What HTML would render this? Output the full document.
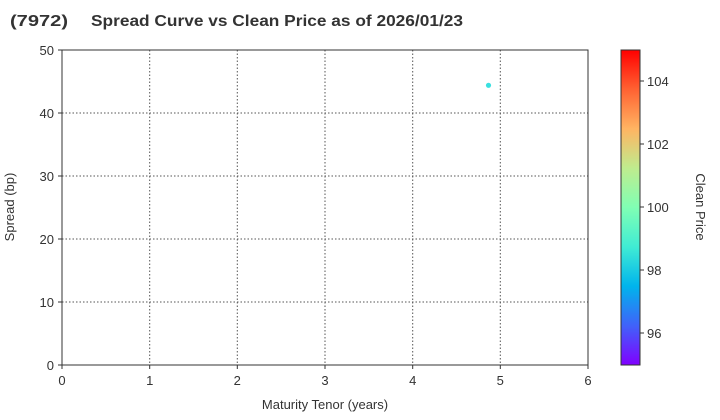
<!DOCTYPE html><html><head><meta charset="utf-8"><style>body{margin:0;background:#fff}svg{display:block;font-family:"Liberation Sans",sans-serif}</style></head><body>
<svg width="720" height="420" viewBox="0 0 720 420">
<defs><linearGradient id="g" x1="0" y1="1" x2="0" y2="0">
<stop offset="0" stop-color="#8000ff"/><stop offset=".125" stop-color="#4062fa"/><stop offset=".25" stop-color="#00b4ec"/><stop offset=".375" stop-color="#40ecd4"/><stop offset=".5" stop-color="#80ffb4"/><stop offset=".625" stop-color="#bfec8e"/><stop offset=".75" stop-color="#ffb462"/><stop offset=".875" stop-color="#ff6232"/><stop offset="1" stop-color="#ff0000"/></linearGradient></defs>
<text x="10" y="26" font-size="16" font-weight="bold" fill="#333" textLength="58" lengthAdjust="spacingAndGlyphs">(7972)</text>
<text x="91" y="26" font-size="16" font-weight="bold" fill="#333" textLength="372" lengthAdjust="spacingAndGlyphs">Spread Curve vs Clean Price as of 2026/01/23</text>
<g stroke="#555" stroke-dasharray="1.5,2" stroke-width="1">
<line x1="149.7" y1="50" x2="149.7" y2="365"/><line x1="237.3" y1="50" x2="237.3" y2="365"/><line x1="325" y1="50" x2="325" y2="365"/><line x1="412.7" y1="50" x2="412.7" y2="365"/><line x1="500.3" y1="50" x2="500.3" y2="365"/>
<line x1="62" y1="302" x2="588" y2="302"/><line x1="62" y1="239" x2="588" y2="239"/><line x1="62" y1="176" x2="588" y2="176"/><line x1="62" y1="113" x2="588" y2="113"/>
</g>
<rect x="62" y="50" width="526" height="315" fill="none" stroke="#333"/>
<g stroke="#333"><line x1="62" y1="365" x2="62" y2="369"/><line x1="149.7" y1="365" x2="149.7" y2="369"/><line x1="237.3" y1="365" x2="237.3" y2="369"/><line x1="325" y1="365" x2="325" y2="369"/><line x1="412.7" y1="365" x2="412.7" y2="369"/><line x1="500.3" y1="365" x2="500.3" y2="369"/><line x1="588" y1="365" x2="588" y2="369"/>
<line x1="58" y1="365" x2="62" y2="365"/><line x1="58" y1="302" x2="62" y2="302"/><line x1="58" y1="239" x2="62" y2="239"/><line x1="58" y1="176" x2="62" y2="176"/><line x1="58" y1="113" x2="62" y2="113"/><line x1="58" y1="50" x2="62" y2="50"/></g>
<g font-size="13" fill="#333" text-anchor="middle"><text x="62" y="385">0</text><text x="149.7" y="385">1</text><text x="237.3" y="385">2</text><text x="325" y="385">3</text><text x="412.7" y="385">4</text><text x="500.3" y="385">5</text><text x="588" y="385">6</text>
<text x="325" y="409">Maturity Tenor (years)</text></g>
<g font-size="13" fill="#333" text-anchor="end"><text x="54" y="370">0</text><text x="54" y="307">10</text><text x="54" y="244">20</text><text x="54" y="181">30</text><text x="54" y="118">40</text><text x="54" y="55">50</text></g>
<text transform="translate(14,207) rotate(-90)" font-size="13" fill="#333" text-anchor="middle">Spread (bp)</text>
<circle cx="488.5" cy="85.3" r="2.6" fill="#3ae0e0"/>
<rect x="621" y="50" width="19" height="315" fill="url(#g)" stroke="#333"/>
<g stroke="#333"><line x1="640" y1="333" x2="644" y2="333"/><line x1="640" y1="270" x2="644" y2="270"/><line x1="640" y1="207" x2="644" y2="207"/><line x1="640" y1="144" x2="644" y2="144"/><line x1="640" y1="81" x2="644" y2="81"/></g>
<g font-size="13" fill="#333"><text x="647" y="338">96</text><text x="647" y="275">98</text><text x="647" y="212">100</text><text x="647" y="149">102</text><text x="647" y="86">104</text></g>
<text transform="translate(696,207) rotate(90)" font-size="13" fill="#333" text-anchor="middle">Clean Price</text>
</svg></body></html>
